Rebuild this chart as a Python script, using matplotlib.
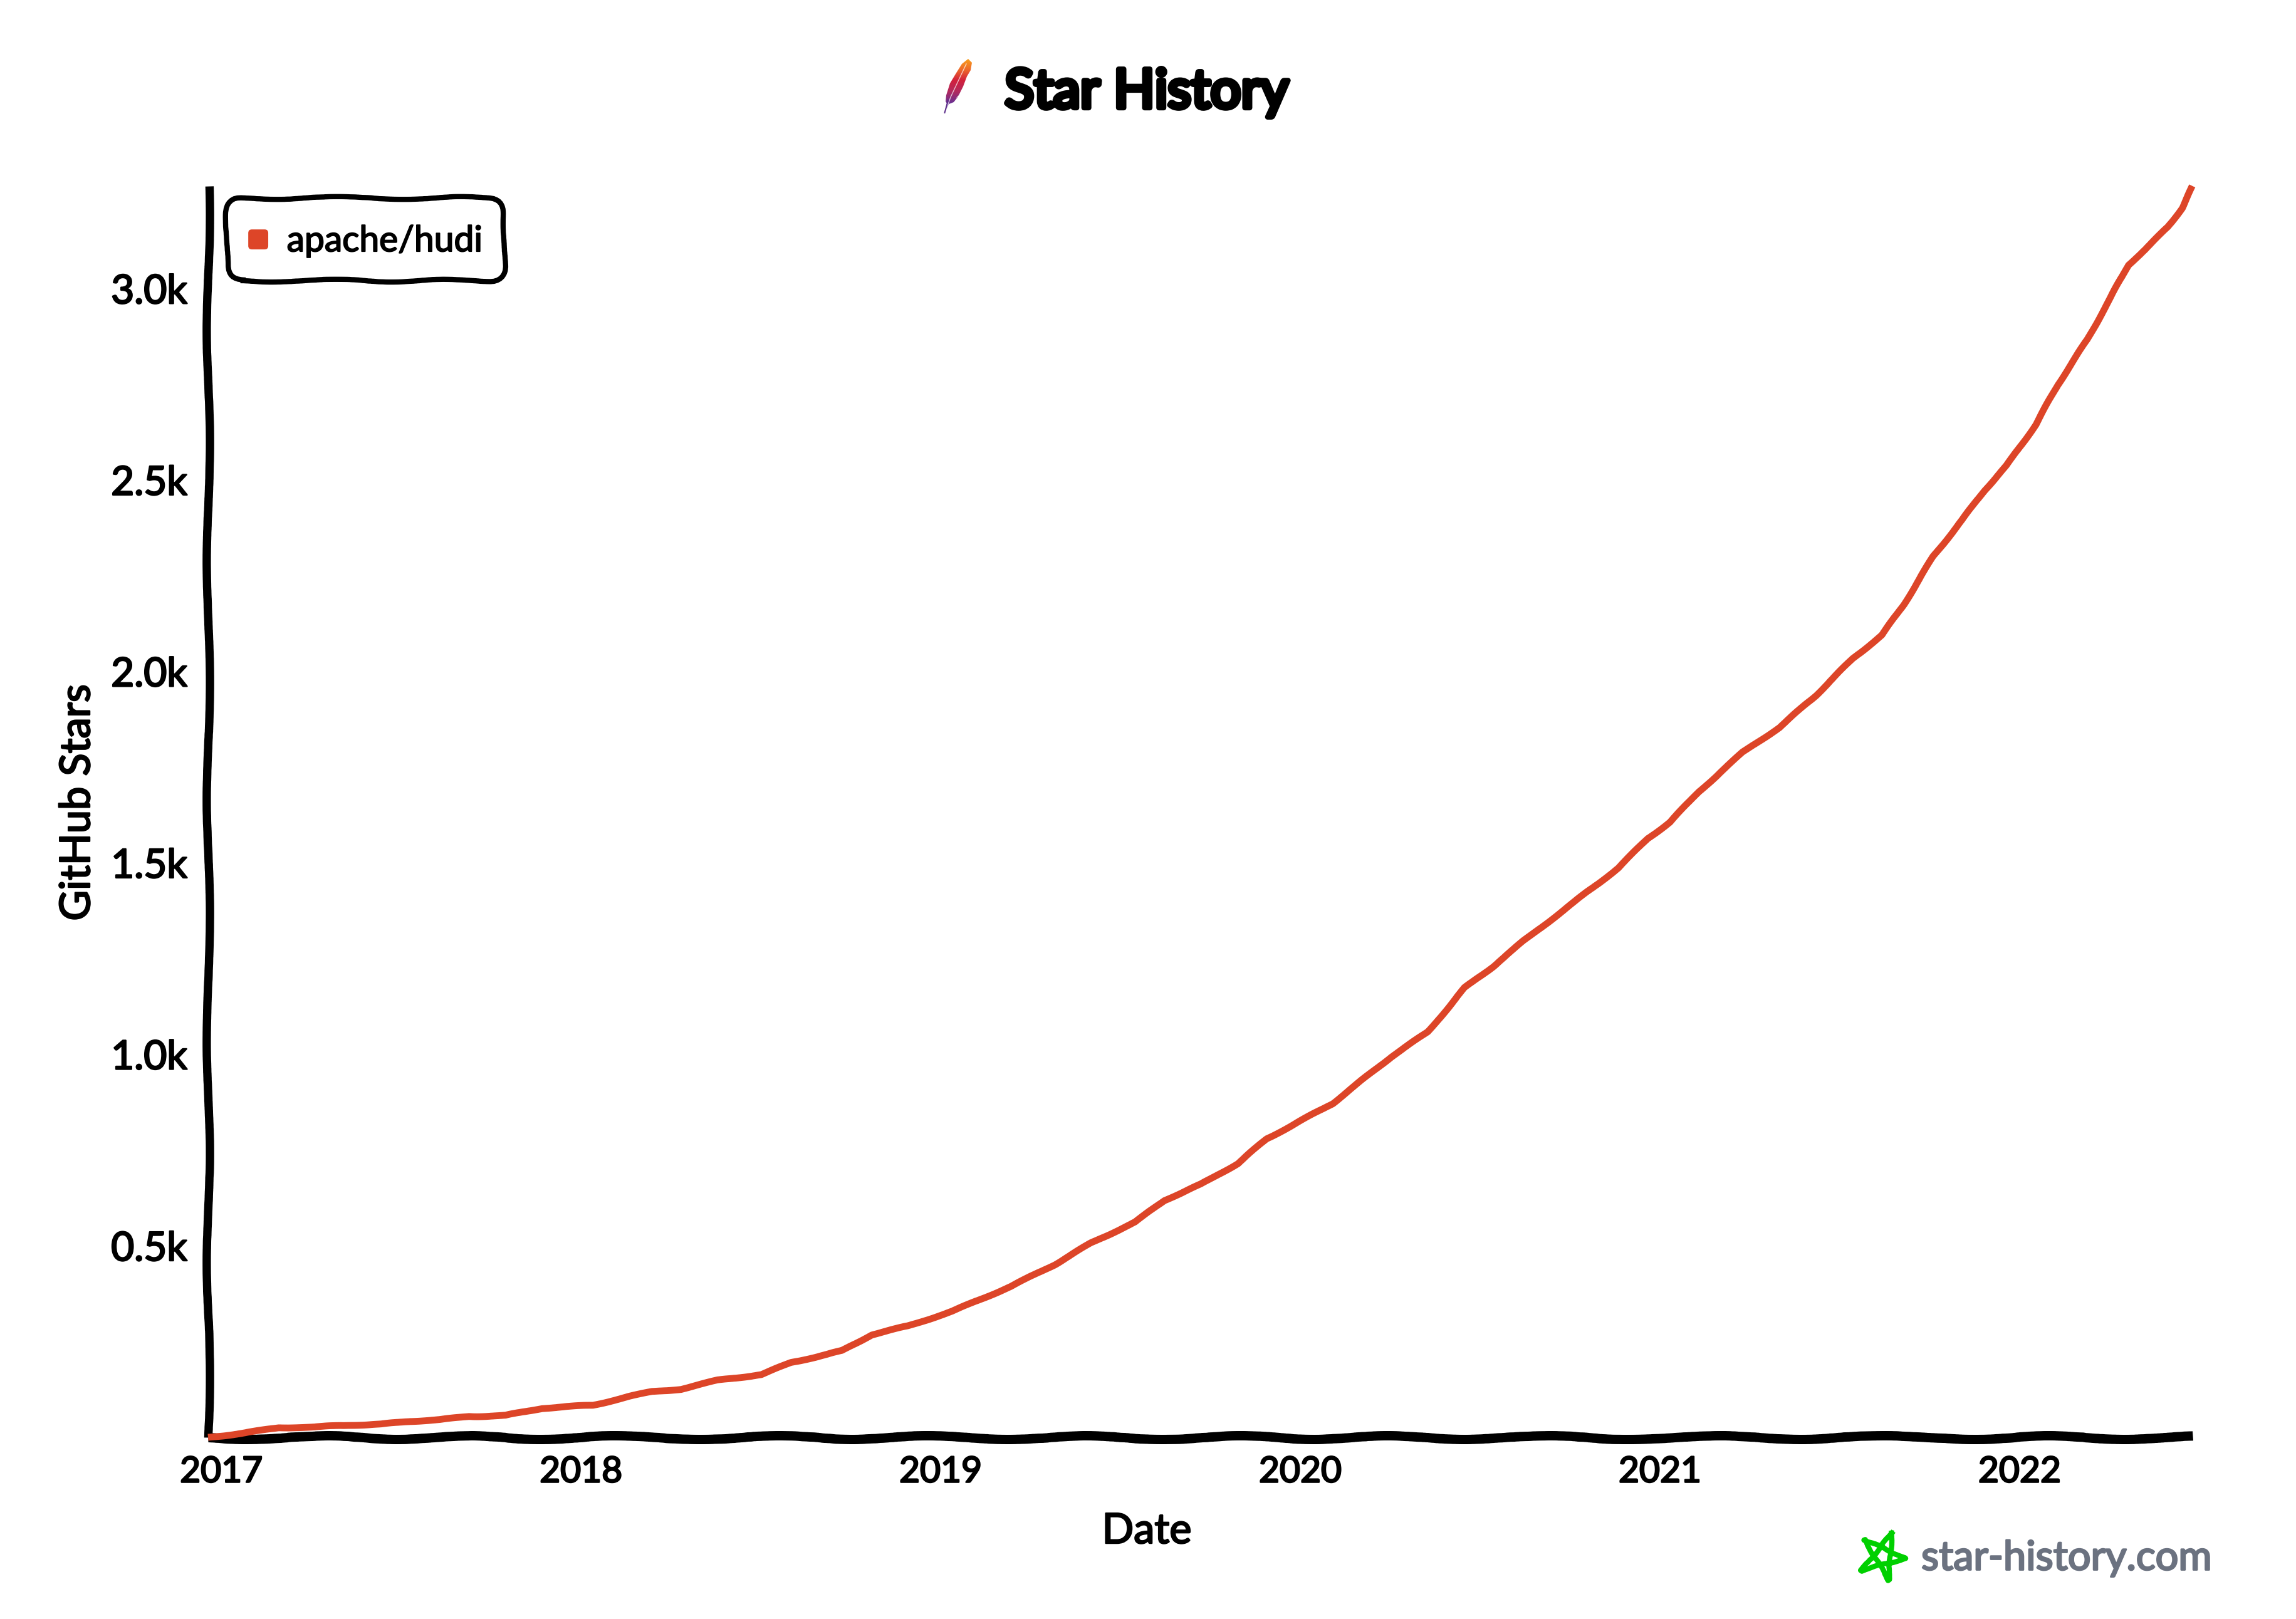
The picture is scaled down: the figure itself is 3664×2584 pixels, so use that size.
import numpy as np
import matplotlib
matplotlib.use("Agg")
import matplotlib.pyplot as plt
import matplotlib.patheffects as pe
from matplotlib.colors import LinearSegmentedColormap
from matplotlib.legend_handler import HandlerPatch
from matplotlib.lines import Line2D
from matplotlib.patches import FancyBboxPatch, Patch, PathPatch
from matplotlib.path import Path
from matplotlib.transforms import Affine2D

# ---- data ------------------------------------------------------------------
years = [2016.963, 2017.057, 2017.159, 2017.26, 2017.362, 2017.444, 2017.525, 2017.607,
         2017.688, 2017.79, 2017.892, 2018.034, 2018.136, 2018.197, 2018.278, 2018.38,
         2018.502, 2018.584, 2018.726, 2018.808, 2018.91, 2019.032, 2019.195, 2019.317,
         2019.419, 2019.541, 2019.622, 2019.724, 2019.826, 2019.907, 2019.968, 2020.09,
         2020.253, 2020.355, 2020.457, 2020.538, 2020.62, 2020.742, 2020.884, 2020.966,
         2021.027, 2021.108, 2021.23, 2021.332, 2021.434, 2021.536, 2021.617, 2021.678,
         2021.76, 2021.841, 2021.902, 2021.964, 2022.045, 2022.106, 2022.188, 2022.249,
         2022.302, 2022.351, 2022.412, 2022.452, 2022.481]
stars = [0, 10, 25, 27, 32, 34, 42, 46, 54, 57, 76, 84, 107, 119, 126, 149,
         164, 195, 226, 268, 291, 329, 394, 451, 508, 562, 619, 661, 715, 780, 810, 872,
         994, 1059, 1174, 1231, 1296, 1384, 1487, 1564, 1606, 1686, 1789, 1854, 1938, 2034,
         2095, 2175, 2301, 2397, 2473, 2538, 2645, 2749, 2867, 2970, 3062, 3104, 3161, 3211, 3268]
series_name = "apache/hudi"
x_ticks = [2017, 2018, 2019, 2020, 2021, 2022]
y_ticks = [500, 1000, 1500, 2000, 2500, 3000]
y_labels = ["0.5k", "1.0k", "1.5k", "2.0k", "2.5k", "3.0k"]

# ---- layout ----------------------------------------------------------------
W, H = 3664, 2584
DPI = 200
FONT = "Lato"
RED = "#dd4528"
plt.rcParams["font.family"] = [FONT, "DejaVu Sans"]

fig = plt.figure(figsize=(W / DPI, H / DPI), dpi=DPI, facecolor="white")
L, R, T, B = 332, 3499, 297, 2294
ax = fig.add_axes([L / W, 1 - B / H, (R - L) / W, (B - T) / H])
px = Affine2D().scale(1 / W, -1 / H).translate(0, 1) + fig.transFigure


def fat(w):
    return [pe.withStroke(linewidth=w, foreground="black")]


line, = ax.plot(years, stars, color=RED, lw=3.9, solid_capstyle="butt", solid_joinstyle="round",
                zorder=5, clip_on=False)
line.set_sketch_params(0.7, 130, 3)
ax.set_xlim(2016.963, 2022.481)
ax.set_ylim(0, 3268)
ax.set_xticks(x_ticks)
ax.set_xticklabels([str(t) for t in x_ticks])
ax.set_yticks(y_ticks)
ax.set_yticklabels(y_labels)
ax.tick_params(axis="both", length=0, labelcolor="black")
ax.tick_params(axis="x", pad=11, labelsize=20.5)
ax.tick_params(axis="y", pad=12, labelsize=23)
for lab in ax.get_xticklabels() + ax.get_yticklabels():
    lab.set_path_effects(fat(0.9))

for s in ("top", "right"):
    ax.spines[s].set_visible(False)
for s, scale, length, lw in (("left", 2.6, 520, 4.8), ("bottom", 3.0, 340, 5.4)):
    ax.spines[s].set_linewidth(lw)
    ax.spines[s].set_capstyle("butt")
    ax.spines[s].set_sketch_params(scale, length, 4)

ax.set_xlabel("Date", fontsize=24, color="black", path_effects=fat(0.9))
ax.xaxis.set_label_coords(1830 / W, 1 - 2444 / H, transform=fig.transFigure)
ax.xaxis.label.set_verticalalignment("center")
ax.set_ylabel("GitHub Stars", fontsize=24, color="black", path_effects=fat(0.9))
ax.yaxis.set_label_coords(124 / W, 1 - 1281 / H, transform=fig.transFigure)
ax.yaxis.label.set_verticalalignment("center")


def rounded_square(legend, orig_handle, xdescent, ydescent, width, height, fontsize):
    side = 0.56 * fontsize
    inset = 0.1 * fontsize
    return FancyBboxPatch((inset - xdescent, (height - side) / 2 - ydescent + inset),
                          side - 2 * inset, side - 2 * inset,
                          boxstyle=f"round,pad={inset},rounding_size={inset}",
                          mutation_scale=1)


handle = Patch(facecolor=RED, edgecolor=RED, linewidth=0, label=series_name)
leg = ax.legend(handles=[handle],
                loc="upper left", bbox_to_anchor=(362 / W, 1 - 316 / H),
                bbox_transform=fig.transFigure, borderaxespad=0, fontsize=20.5,
                handlelength=0.56, handleheight=1.35, handletextpad=0.52, borderpad=0.6,
                handler_map={Patch: HandlerPatch(patch_func=rounded_square)},
                fancybox=True, framealpha=1, edgecolor="black", labelcolor="black")
leg.get_frame().set_linewidth(3.0)
leg.get_frame().set_boxstyle("round", pad=0, rounding_size=0.45)
leg.get_frame().set_sketch_params(2.2, 260, 4)
for t in leg.get_texts():
    t.set_path_effects(fat(0.7))

fig.text(1830 / W, 1 - 148 / H, "Star History", fontsize=31, ha="center",
         va="center", color="black", path_effects=fat(3.0))
fig.text(3066 / W, 1 - 2487 / H, "star-history.com", fontsize=23.3, ha="left", va="center",
         color="#6b7280", path_effects=[pe.withStroke(linewidth=1.0, foreground="#6b7280")])

# ---- footer star -----------------------------------------------------------
star_x = [3019, 2970, 3041, 2975, 3014, 3019]
star_y = [2447, 2507, 2487, 2457, 2522, 2447]
star = Line2D(star_x, star_y, transform=px, color="#00d000", lw=3.0, solid_joinstyle="round")
star.set_sketch_params(1.2, 80, 4)
fig.add_artist(star)

# ---- title feather ---------------------------------------------------------
outline = [(1545, 94), (1551, 100), (1549, 112), (1543, 122), (1540, 130), (1537, 138),
           (1530, 152), (1525, 157), (1529, 154), (1522, 163), (1517, 165), (1514, 166),
           (1508, 180), (1507, 180), (1511, 165), (1509, 162), (1510, 152), (1516, 133),
           (1525, 118), (1535, 102), (1545, 94)]
codes = [Path.MOVETO] + [Path.LINETO] * (len(outline) - 2) + [Path.CLOSEPOLY]
fax = fig.add_axes([0, 0, 1, 1], zorder=-1)
fax.set_xlim(0, W)
fax.set_ylim(H, 0)
fax.axis("off")
cmap = LinearSegmentedColormap.from_list(
    "feather", ["#f9a11b", "#ee6b2a", "#d2203c", "#b32a5e", "#6d3090", "#5b2d8a"])
grad = fax.imshow(np.linspace(0, 1, 256)[:, None], cmap=cmap, extent=(1505, 1553, 181, 93),
                  aspect="auto", zorder=1)
clip = PathPatch(Path(outline, codes), facecolor="none", edgecolor="none", transform=fax.transData)
fax.add_patch(clip)
grad.set_clip_path(clip)
fax.set_xlim(0, W)
fax.set_ylim(H, 0)
fax.add_line(Line2D([1508, 1517, 1542], [180, 155, 102], color="white", lw=0.5, alpha=0.7, zorder=2))
fax.add_line(Line2D([1507.5, 1513], [180, 160], color="#5b2d8a", lw=0.7, zorder=2))

fig.savefig("out.png", dpi=DPI, facecolor="white")
